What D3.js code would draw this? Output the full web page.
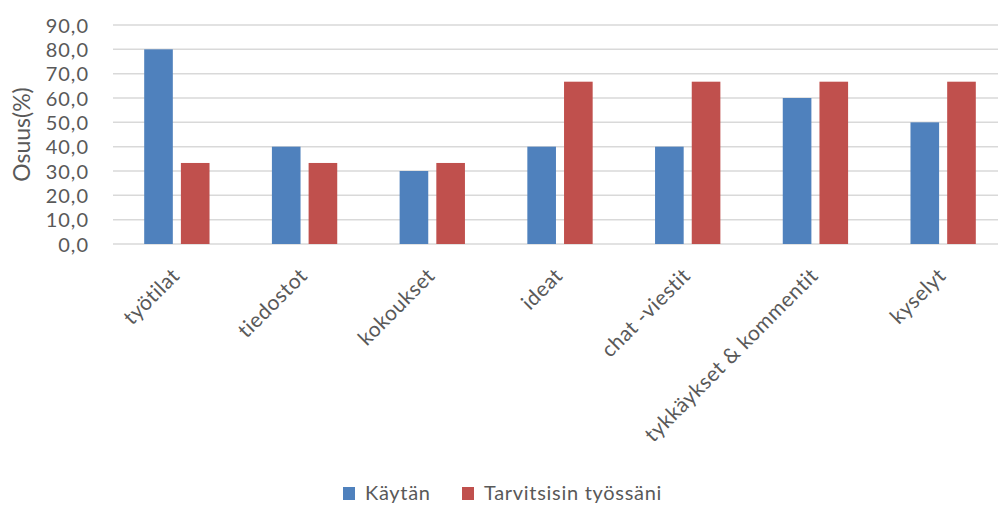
<!DOCTYPE html>
<html>
<head>
<meta charset="utf-8">
<script src="https://cdn.jsdelivr.net/npm/d3@7"></script>
<style>
  html, body { margin: 0; padding: 0; background: #fff; }
  svg { display: block; }
  text { font-family: Lato, "Open Sans", sans-serif; fill: #595959; }
</style>
</head>
<body>
<svg id="chart" width="998" height="507"></svg>
<script>
// Categories and series (percent shares)
const categories = ["työtilat", "tiedostot", "kokoukset", "ideat", "chat -viestit", "tykkäykset & kommentit", "kyselyt"];
const seriesNames = ["Käytän", "Tarvitsisin työssäni"];
const kaytan = [80.0, 40.0, 30.0, 40.0, 40.0, 60.0, 50.0];
const tarvitsisin = [33.3, 33.3, 33.3, 66.7, 66.7, 66.7, 66.7];
const yTicks = [0, 10, 20, 30, 40, 50, 60, 70, 80, 90];
const colors = ["#4f81bd", "#c0504d"];

const svg = d3.select("#chart");
const margin = { left: 113, right: -9, top: 25, bottom: 263 };
const W = 998, H = 507;
const plotW = W - margin.left - margin.right;
const plotH = H - margin.top - margin.bottom;

const g = svg.append("g").attr("transform", `translate(${margin.left},${margin.top})`);

const x = d3.scaleBand().domain(categories).range([0, plotW]).paddingInner(0).paddingOuter(0);
const xs = d3.scaleBand().domain(seriesNames).range([0, x.bandwidth()]).paddingInner(0.22).paddingOuter(0.85);
const y = d3.scaleLinear().domain([0, 90]).range([plotH, 0]);

const fmt = v => d3.format(".1f")(v).replace(".", ",");

// Horizontal gridlines
g.append("g")
  .selectAll("line")
  .data(yTicks)
  .join("line")
  .attr("x1", 0).attr("x2", plotW)
  .attr("y1", d => y(d)).attr("y2", d => y(d))
  .attr("stroke", "#d9d9d9").attr("stroke-width", 1.5);

// Y axis labels
const yAxis = d3.axisLeft(y).tickValues(yTicks).tickFormat(fmt).tickSize(0).tickPadding(24);
const ya = g.append("g").call(yAxis);
ya.select(".domain").remove();
ya.selectAll("text")
  .style("font-size", "20px")
  .style("letter-spacing", "1px")
  .attr("fill", "#595959")
  .attr("dy", "0.35em");

// Bars
const series = [kaytan, tarvitsisin];
series.forEach((vals, si) => {
  g.append("g")
    .selectAll("rect")
    .data(vals)
    .join("rect")
    .attr("x", (d, i) => x(categories[i]) + xs(seriesNames[si]))
    .attr("width", xs.bandwidth())
    .attr("y", d => y(d))
    .attr("height", d => y(0) - y(d))
    .attr("fill", colors[si]);
});

// X axis category labels, rotated
const xl = g.append("g").attr("transform", `translate(0,${plotH})`);
xl.selectAll("text")
  .data(categories)
  .join("text")
  .attr("transform", d => `translate(${x(d) + x.bandwidth() / 2 + 4},${33}) rotate(-45)`)
  .attr("text-anchor", "end")
  .style("font-size", "21px")
  .style("letter-spacing", "0.5px")
  .text(d => d);

// Y axis title
svg.append("text")
  .attr("transform", `translate(30,${margin.top + plotH / 2}) rotate(-90)`)
  .attr("text-anchor", "middle")
  .style("font-size", "23px")
  .text("Osuus(%)");

// Legend
const legend = svg.append("g").attr("transform", "translate(343,487)");
const items = [{ name: seriesNames[0], c: colors[0], x: 0 }, { name: seriesNames[1], c: colors[1], x: 119 }];
items.forEach(it => {
  const li = legend.append("g").attr("transform", `translate(${it.x},0)`);
  li.append("rect").attr("width", 12).attr("height", 13).attr("fill", it.c);
  li.append("text").attr("x", 22).attr("y", 13)
    .style("font-size", "20px")
    .style("letter-spacing", "0.7px")
    .text(it.name);
});
</script>
</body>
</html>
